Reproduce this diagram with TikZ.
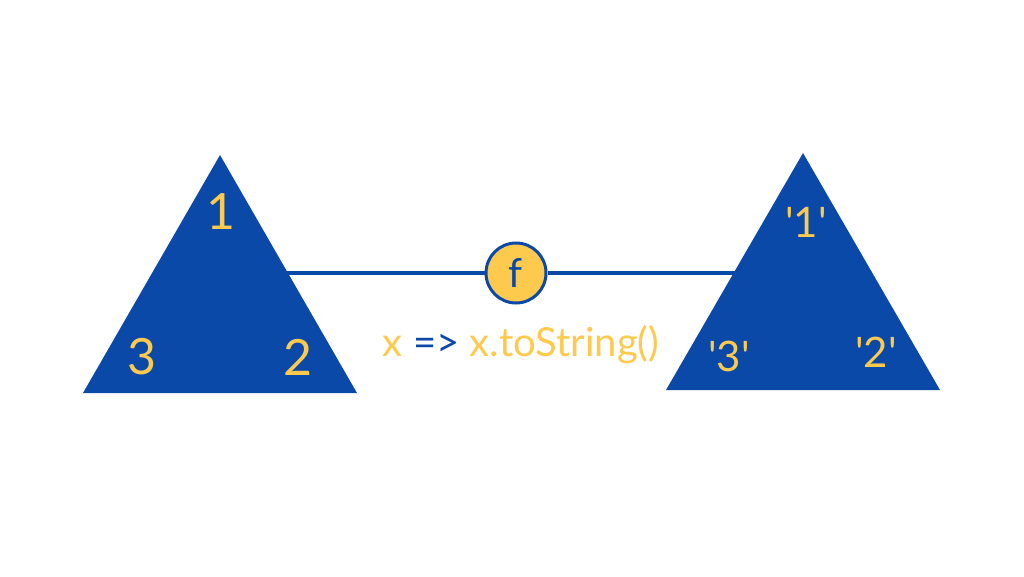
\documentclass[tikz,border=0pt]{standalone}
\usepackage{fontspec}
\setmainfont{Lato}
\definecolor{tblue}{HTML}{0A49A8}
\definecolor{tyellow}{HTML}{FDCA4E}
\newcommand{\sq}{\textquotesingle}
\begin{document}
\begin{tikzpicture}[x=1pt,y=-1pt,
  tri/.style={fill=tblue},
  lab/.style={text=tyellow,font=\fontsize{50}{50}\selectfont,inner sep=0pt},
  qlab/.style={text=tyellow,font=\fontsize{42}{42}\selectfont,inner sep=0pt},
  fnode/.style={circle,fill=tyellow,draw=tblue,line width=3pt,minimum size=60pt,inner sep=0pt,text=tblue,font=\fontsize{40}{40}\selectfont},
  link/.style={draw=tblue,line width=4pt}]
\useasboundingbox (0,0) rectangle (1024,576);
\fill[white] (0,0) rectangle (1024,576);
% connector
\coordinate (la) at (285,273);
\coordinate (ra) at (740,273);
\node[fnode] (f) at (516,273) {f};
\draw[link] (la) -- (f.west);
\draw[link] (f.east) -- (ra);
% left triangle
\fill[tri] (220,155) -- (357,393) -- (83,393) -- cycle;
\node[lab] (l1) at (221,212) {1};
\node[lab] (l3) at (142,357) {3};
\node[lab] (l2) at (298,357) {2};
% right triangle
\fill[tri] (803,153) -- (940,390) -- (666,390) -- cycle;
\node[qlab] (r1) at (806,222) {\sq1\sq};
\node[qlab] (r3) at (729,356) {\sq3\sq};
\node[qlab] (r2) at (876,352) {\sq2\sq};
% function text
\node[inner sep=0pt,font=\fontsize{40}{40}\selectfont] (fx) at (521,345)
  {\textcolor{tyellow}{x} \textcolor{tblue}{=>} \textcolor{tyellow}{x.toString()}};
\end{tikzpicture}
\end{document}
